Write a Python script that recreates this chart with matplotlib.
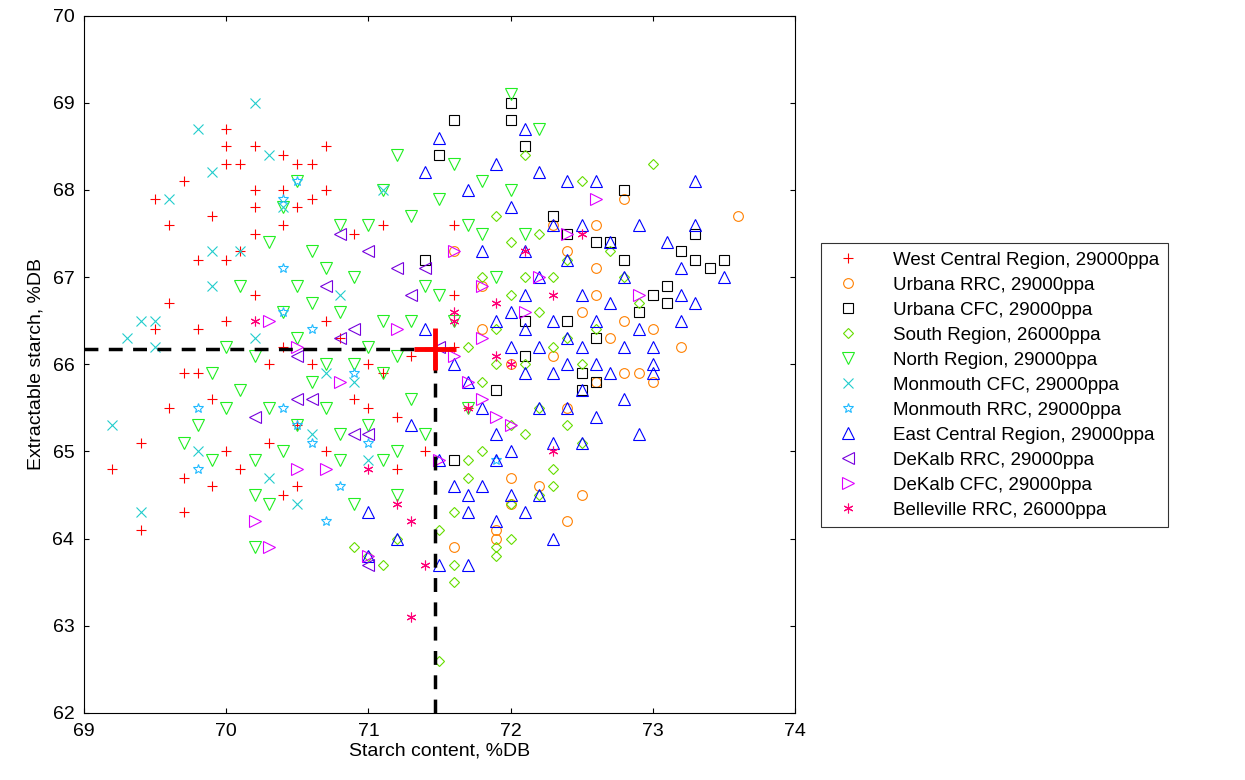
import matplotlib
matplotlib.use("Agg")
import matplotlib.pyplot as plt
plt.rcParams['font.family'] = ['Liberation Sans', 'DejaVu Sans']

west = [(69.2,64.8),(69.4,65.1),(69.4,64.1),(69.5,67.9),(69.5,66.4),(69.6,67.6),(69.6,66.7),(69.6,65.5),(69.7,68.1),(69.7,65.9),(69.7,64.7),(69.7,64.3),(69.8,65.9),(69.8,66.4),(69.8,67.2),(69.9,67.7),(69.9,65.6),(69.9,64.6),(70.0,68.7),(70.0,68.5),(70.0,68.3),(70.0,67.2),(70.0,66.5),(70.0,65.0),(70.1,68.3),(70.1,67.3),(70.1,64.8),(70.2,68.0),(70.2,67.8),(70.2,68.5),(70.2,67.5),(70.2,66.8),(70.3,66.0),(70.3,65.1),(70.4,68.4),(70.4,68.0),(70.4,67.6),(70.4,66.2),(70.4,64.5),(70.5,68.3),(70.5,67.8),(70.5,65.3),(70.5,64.6),(70.6,68.3),(70.6,67.9),(70.6,66.0),(70.7,68.5),(70.7,68.0),(70.7,66.5),(70.7,65.0),(70.8,66.3),(70.9,67.5),(70.9,65.6),(71.0,66.0),(71.0,65.5),(71.1,67.6),(71.1,65.9),(71.2,64.8),(71.2,65.4),(71.3,66.1),(71.4,65.0),(71.6,67.6),(71.6,66.2),(71.7,65.5),(71.6,66.8)]
urbana_rrc = [(71.6,67.3),(71.6,63.9),(71.8,66.9),(71.8,66.4),(71.9,64.1),(71.9,64.0),(72.0,66.0),(72.0,64.7),(72.0,64.4),(72.2,64.6),(72.3,67.6),(72.4,67.3),(72.4,65.5),(72.4,64.2),(72.5,64.5),(72.5,66.6),(72.6,67.6),(72.6,67.1),(72.6,66.8),(72.6,65.8),(72.7,66.3),(72.8,67.9),(72.8,66.5),(72.9,65.9),(73.0,65.8),(73.0,66.4),(73.2,66.2),(73.6,67.7),(72.8,65.9),(72.3,66.1)]
urbana_cfc = [(71.4,67.2),(71.5,68.4),(71.6,68.8),(71.6,64.9),(71.9,65.7),(72.0,69.0),(72.0,68.8),(72.1,68.5),(72.1,66.5),(72.1,66.1),(72.3,67.7),(72.4,67.5),(72.4,66.5),(72.5,65.7),(72.6,67.4),(72.6,66.3),(72.6,65.8),(72.7,67.4),(72.8,68.0),(72.8,67.2),(72.9,66.6),(73.1,66.9),(73.1,66.7),(73.2,67.3),(73.3,67.2),(73.3,67.5),(73.4,67.1),(73.5,67.2),(73.0,66.8),(72.5,65.9)]
south = [(71.2,64.0),(71.1,63.7),(70.9,63.9),(71.0,63.8),(71.5,62.6),(71.5,64.1),(71.6,63.5),(71.6,63.7),(71.6,64.3),(71.7,66.2),(71.7,64.7),(71.8,65.0),(71.8,67.0),(71.9,63.9),(71.9,63.8),(71.9,67.7),(71.9,66.4),(72.0,65.3),(72.0,67.4),(72.0,66.8),(72.0,64.4),(72.1,68.4),(72.1,67.0),(72.1,66.0),(72.1,65.2),(72.2,64.5),(72.2,65.5),(72.2,66.6),(72.3,64.6),(72.3,64.8),(72.3,66.2),(72.3,67.0),(72.4,65.3),(72.4,66.3),(72.4,67.2),(72.5,68.1),(72.5,66.0),(72.5,65.1),(72.6,66.4),(72.7,67.3),(72.8,67.0),(72.9,66.7),(73.0,68.3),(71.8,65.8),(71.9,66.0),(72.2,67.5),(71.7,64.9),(72.0,64.0)]
north = [(69.7,65.1),(69.8,65.3),(69.9,64.9),(69.9,65.9),(70.0,65.5),(70.0,66.2),(70.1,66.9),(70.1,65.7),(70.2,66.1),(70.2,64.5),(70.2,63.9),(70.2,64.9),(70.3,65.5),(70.3,67.4),(70.3,64.4),(70.4,67.8),(70.4,66.6),(70.4,65.0),(70.5,66.9),(70.5,66.3),(70.5,65.3),(70.6,67.3),(70.6,66.7),(70.6,65.8),(70.7,67.1),(70.7,66.0),(70.7,65.5),(70.8,66.6),(70.8,65.2),(70.8,64.9),(70.9,67.0),(70.9,66.0),(70.9,64.4),(71.0,67.6),(71.0,66.2),(71.0,65.3),(71.1,68.0),(71.1,66.5),(71.1,65.9),(71.2,68.4),(71.2,66.1),(71.2,65.0),(71.3,67.7),(71.3,66.5),(71.3,65.6),(71.4,66.9),(71.4,65.2),(71.5,67.9),(71.5,66.8),(71.6,68.3),(71.6,66.5),(71.7,67.6),(71.7,65.5),(71.8,67.5),(71.8,68.1),(71.9,67.0),(72.0,69.1),(72.0,68.0),(72.1,67.5),(72.2,68.7),(70.5,68.1),(70.8,67.6),(71.1,64.9),(71.2,64.5)]
mon_cfc = [(69.2,65.3),(69.3,66.3),(69.4,64.3),(69.4,66.5),(69.5,66.5),(69.5,66.2),(69.6,67.9),(69.8,68.7),(69.8,65.0),(69.9,68.2),(69.9,67.3),(69.9,66.9),(70.1,67.3),(70.2,69.0),(70.2,66.3),(70.3,64.7),(70.3,68.4),(70.4,67.8),(70.5,64.4),(70.6,65.2),(70.7,65.9),(70.9,65.8),(71.0,64.9),(71.1,68.0),(70.8,66.8)]
mon_rrc = [(69.8,65.5),(69.8,64.8),(70.4,65.5),(70.4,66.6),(70.4,67.1),(70.5,68.1),(70.5,65.3),(70.6,66.4),(70.7,64.2),(70.8,64.6),(70.9,65.9),(71.0,65.1),(71.9,64.9),(70.6,65.1),(70.4,67.9)]
east = [(71.0,64.3),(71.0,63.8),(71.2,64.0),(71.3,65.3),(71.4,66.4),(71.4,68.2),(71.5,68.6),(71.5,64.9),(71.5,63.7),(71.6,64.6),(71.6,66.0),(71.7,64.5),(71.7,64.3),(71.7,63.7),(71.7,65.8),(71.7,68.0),(71.8,64.6),(71.8,65.5),(71.8,67.3),(71.9,68.3),(71.9,66.5),(71.9,65.2),(71.9,64.2),(72.0,67.8),(72.0,66.2),(72.0,65.0),(72.0,64.5),(72.1,68.7),(72.1,67.3),(72.1,66.8),(72.1,65.9),(72.1,64.3),(72.2,68.2),(72.2,67.0),(72.2,66.2),(72.2,65.5),(72.3,67.6),(72.3,66.5),(72.3,65.9),(72.3,65.1),(72.3,64.0),(72.4,68.1),(72.4,67.2),(72.4,66.0),(72.4,65.5),(72.5,66.8),(72.5,66.2),(72.5,65.7),(72.5,67.6),(72.6,66.5),(72.6,66.0),(72.6,65.4),(72.6,68.1),(72.7,67.4),(72.7,66.7),(72.7,65.9),(72.8,67.0),(72.8,66.2),(72.8,65.6),(72.9,67.6),(72.9,66.4),(72.9,65.2),(73.0,66.2),(73.0,65.9),(73.0,66.0),(73.1,67.4),(73.2,67.1),(73.2,66.8),(73.2,66.5),(73.3,68.1),(73.3,67.6),(73.3,66.7),(73.5,67.0),(72.2,64.5),(71.9,64.9),(72.0,66.6),(72.1,66.4),(72.4,66.3),(72.5,65.1)]
dek_rrc = [(70.2,65.4),(70.5,65.6),(70.5,66.1),(70.7,66.9),(70.8,67.5),(70.8,66.3),(70.9,66.4),(71.0,67.3),(71.0,65.2),(71.2,67.1),(71.3,66.8),(71.4,67.1),(71.5,66.2),(71.0,63.7),(70.6,65.6),(70.9,65.2)]
dek_cfc = [(70.2,64.2),(70.3,63.9),(70.3,66.5),(70.5,64.8),(70.5,66.2),(70.7,64.8),(70.8,65.8),(71.0,63.8),(71.2,66.4),(71.5,64.9),(71.6,67.3),(71.8,66.9),(71.8,66.3),(71.9,65.4),(72.0,65.3),(72.2,67.0),(72.4,67.5),(72.6,67.9),(72.9,66.8),(71.7,65.8),(71.6,66.1),(72.1,66.6),(71.8,65.6)]
belle = [(70.2,66.5),(71.0,64.8),(71.2,64.4),(71.3,64.2),(71.3,63.1),(71.4,63.7),(71.6,66.5),(71.9,66.1),(71.9,66.7),(71.7,65.5),(72.0,66.0),(72.1,67.3),(72.3,66.8),(72.3,65.0),(72.5,67.5),(71.6,66.6)]
target = (71.47, 66.18)

series = [
    ("West Central Region, 29000ppa", west, '+', '#ff0000', True),
    ("Urbana RRC, 29000ppa", urbana_rrc, 'o', '#ff8000', False),
    ("Urbana CFC, 29000ppa", urbana_cfc, 's', '#000000', False),
    ("South Region, 26000ppa", south, 'D', '#66dd00', False),
    ("North Region, 29000ppa", north, 'v', '#22ee22', False),
    ("Monmouth CFC, 29000ppa", mon_cfc, 'x', '#22cccc', True),
    ("Monmouth RRC, 29000ppa", mon_rrc, '*', '#22bbff', False),
    ("East Central Region, 29000ppa", east, '^', '#0000ff', False),
    ("DeKalb RRC, 29000ppa", dek_rrc, '<', '#7700dd', False),
    ("DeKalb CFC, 29000ppa", dek_cfc, '>', '#dd00ff', False),
    ("Belleville RRC, 26000ppa", belle, (6, 2, 0), '#ff0077', True),
]

fig = plt.figure(figsize=(12.45, 7.8), dpi=100)
ax = fig.add_axes([0.0675, 0.086, 0.571, 0.894])
handles = []
for name, pts, m, c, line in series:
    xs = [p[0] for p in pts]; ys = [p[1] for p in pts]
    ms = 7 if m != 'D' else 5.5
    if line:
        h, = ax.plot(xs, ys, ls='none', marker=m, color=c, ms=7, mew=0.8, label=name)
    else:
        h, = ax.plot(xs, ys, ls='none', marker=m, mfc='none', mec=c, ms=ms+2 if m in ('^','v','<','>') else ms, mew=0.8, label=name)
    handles.append(h)
ax.plot([69, target[0]], [target[1]]*2, 'k--', lw=2.5, dashes=(4, 3))
ax.plot([target[0]]*2, [62, target[1]], 'k--', lw=2.5, dashes=(4, 3))
ax.plot([target[0]], [target[1]], marker='+', color='red', ms=30, mew=3.5)
ax.set_xlim(69, 74); ax.set_ylim(62, 70)
ax.set_xticks(range(69, 75)); ax.set_yticks(range(62, 71))
ax.tick_params(labelsize=14, direction='in', top=True, right=True, pad=7)
ax.set_xlabel("Starch content, %DB", fontsize=14, labelpad=2)
ax.set_ylabel("Extractable starch, %DB", fontsize=14, labelpad=6)
leg = fig.legend(handles=handles, loc='upper left', bbox_to_anchor=(0.652, 0.700),
                 fontsize=13.5, frameon=True, fancybox=False, edgecolor='black',
                 borderpad=0.45, labelspacing=0.42, handletextpad=1.4)
leg.get_frame().set_linewidth(0.8)
fig.savefig("out.png", dpi=100)
